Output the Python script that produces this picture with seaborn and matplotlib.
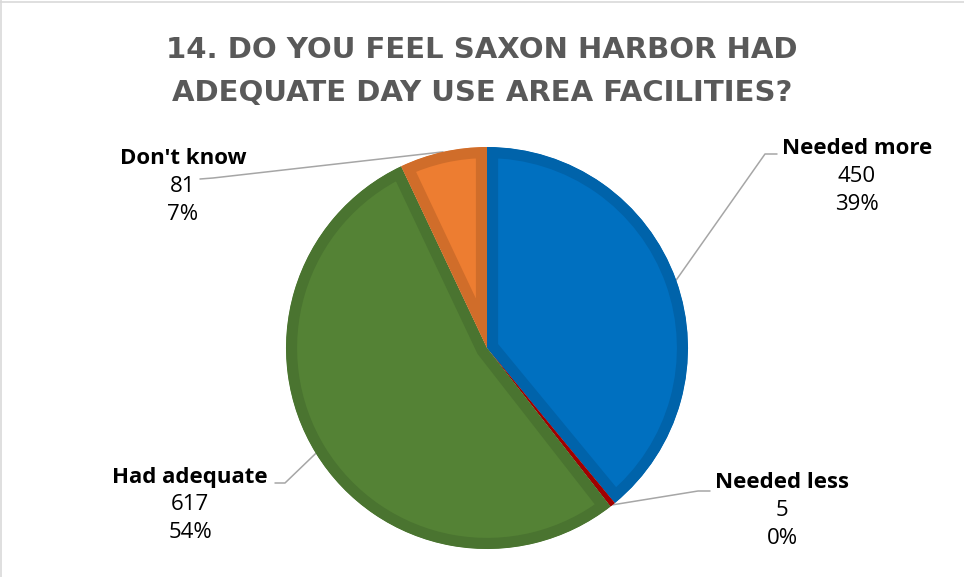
import numpy as np
import matplotlib.pyplot as plt
import seaborn as sns

categories = ["Needed more", "Needed less", "Had adequate", "Don't know"]
counts = [450, 5, 617, 81]
percent_labels = ["39%", "0%", "54%", "7%"]
fill_colors = ["#0070C0", "#C00000", "#548235", "#ED7D31"]
edge_colors = ["#0063AA", "#A00000", "#4A7430", "#D06D2A"]
title_lines = ["14. DO YOU FEEL SAXON HARBOR HAD", "ADEQUATE DAY USE AREA FACILITIES?"]

sns.set_theme(style="white")
plt.rcParams['font.family'] = ['Open Sans', 'DejaVu Sans']

W, H = 964, 577
fig = plt.figure(figsize=(W / 100, H / 100), dpi=100)
ax = fig.add_axes([0, 0, 1, 1])

center = (487, H - 348)
radius = 201
wedges, _ = ax.pie(counts, colors=fill_colors, startangle=90, counterclock=False,
                   center=center, radius=radius)
for w, ec in zip(wedges, edge_colors):
    # darker rim drawn on the inside of each slice
    w.set_edgecolor(ec)
    w.set_linewidth(16)
    w.set_clip_on(True)
    w.set_clip_path(w)

ax.set_xlim(0, W)
ax.set_ylim(0, H)
ax.set_aspect('equal')
ax.axis('off')


def py(y):
    # pixel row (from top) -> data y
    return H - y


# label layout: text centre x, first line row, elbow points (pixel rows)
layout = {
    "Needed more": (857, 148, [(777, 154), (765, 154)]),
    "Needed less": (782, 483, [(710, 491), (698, 491)]),
    "Had adequate": (190, 477, [(275, 483), (285, 483)]),
    "Don't know": (183, 158, [(200, 179), (213, 178)]),
}

for w, cat, n, pct in zip(wedges, categories, counts, percent_labels):
    x, y0, elbow = layout[cat]
    ax.text(x, py(y0), cat, ha='center', va='center', fontsize=16,
            fontweight='bold', color='black')
    ax.text(x, py(y0 + 28), str(n), ha='center', va='center', fontsize=16, color='black')
    ax.text(x, py(y0 + 56), pct, ha='center', va='center', fontsize=16, color='black')
    mid = np.deg2rad((w.theta1 + w.theta2) / 2)
    ax_pt = (center[0] + radius * np.cos(mid), center[1] + radius * np.sin(mid))
    xs = [p[0] for p in elbow] + [ax_pt[0]]
    ys = [py(p[1]) for p in elbow] + [ax_pt[1]]
    ax.plot(xs, ys, color='#A6A6A6', lw=1.1, zorder=0.5)

for i, line in enumerate(title_lines):
    fig.text(0.5, 1 - (50 + 43 * i) / H, line, ha='center', va='center',
             fontsize=21, fontweight='bold', color='#595959',
             family=['DejaVu Sans'])

# thin frame on the top and left edges only
fig.add_artist(plt.Line2D([0, 1], [1 - 2 / H, 1 - 2 / H], transform=fig.transFigure,
                          color='#D9D9D9', lw=1.2))
fig.add_artist(plt.Line2D([1 / W, 1 / W], [0, 1], transform=fig.transFigure,
                          color='#D9D9D9', lw=1.2))

fig.savefig('out.png', dpi=100)
